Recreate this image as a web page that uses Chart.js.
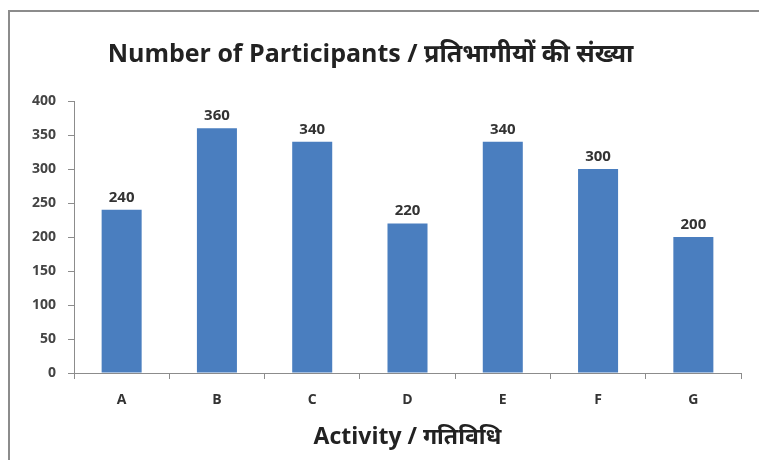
<!DOCTYPE html>
<html lang="en">
<head>
  <meta charset="UTF-8" />
  <title>Number of Participants</title>
  <script src="https://cdn.jsdelivr.net/npm/chart.js"></script>
  <style>
    html, body {
      margin: 0;
      padding: 0;
      background: #fff;
      overflow: hidden;
    }

    #wrap {
      position: relative;
      width: 759px;
      height: 460px;
    }

    #frame {
      position: absolute;
      left: 8px;
      top: 10px;
      width: 800px;
      height: 500px;
      border-left: 2px solid #8c8c8c;
      border-top: 2px solid #8c8c8c;
    }

    canvas {
      position: absolute;
      left: 0;
      top: 0;
    }
  </style>
</head>
<body>
  <div id="wrap">
    <div id="frame"></div>
    <canvas id="barChart" width="759" height="460"></canvas>
  </div>

  <script>
    const activities = ['A', 'B', 'C', 'D', 'E', 'F', 'G'];
    const participants = [240, 360, 340, 220, 340, 300, 200];
    const yTicks = [0, 50, 100, 150, 200, 250, 300, 350, 400];

    const FONT = "'Open Sans', 'Noto Sans', sans-serif";

    // write the value over each bar
    const valueLabels = {
      id: 'valueLabels',
      afterDatasetsDraw(chart) {
        const ctx = chart.ctx;
        const meta = chart.getDatasetMeta(0);
        ctx.save();
        ctx.font = 'bold 15px ' + FONT;
        ctx.fillStyle = '#333';
        ctx.textAlign = 'center';
        ctx.textBaseline = 'bottom';
        meta.data.forEach((bar, i) => {
          ctx.fillText(participants[i], bar.x, bar.y - 5);
        });
        ctx.restore();
      }
    };

    const ctx = document.getElementById('barChart').getContext('2d');
    new Chart(ctx, {
      type: 'bar',
      data: {
        labels: activities,
        datasets: [{
          data: participants,
          backgroundColor: '#4a7ebf',
          barPercentage: 0.42,
          categoryPercentage: 1
        }]
      },
      options: {
        responsive: false,
        animation: false,
        layout: { padding: { left: 0, right: 18, top: 0, bottom: 0 } },
        plugins: {
          legend: { display: false },
          tooltip: { enabled: false },
          title: {
            display: true,
            text: 'Number of Participants / प्रतिभागीयों की संख्या',
            color: '#222',
            font: { family: FONT, size: 25, weight: 'bold', lineHeight: 1.2 },
            padding: { top: 40, bottom: 31 }
          }
        },
        scales: {
          y: {
            min: 0,
            max: 400,
            afterFit: s => { s.width = 74; },
            afterBuildTicks: s => { s.ticks = yTicks.map(v => ({ value: v })); },
            border: { display: true, color: '#8c8c8c', width: 1 },
            grid: { drawOnChartArea: false, drawTicks: true, tickLength: 6, color: '#8c8c8c' },
            ticks: {
              padding: 12,
              color: '#444',
              font: { family: FONT, size: 14, weight: 'bold' }
            }
          },
          x: {
            afterFit: s => { s.height = 87; },
            border: { display: true, color: '#8c8c8c', width: 1 },
            grid: { drawOnChartArea: false, drawTicks: true, tickLength: 6, color: '#8c8c8c' },
            ticks: {
              padding: 13,
              color: '#333',
              font: { family: FONT, size: 14, weight: 'bold' }
            },
            title: {
              display: true,
              text: 'Activity / गतिविधि',
              color: '#222',
              font: { family: FONT, size: 23, weight: 'bold', lineHeight: 1.2 },
              padding: { top: 4, bottom: 9 }
            }
          }
        }
      },
      plugins: [valueLabels]
    });
  </script>
</body>
</html>
